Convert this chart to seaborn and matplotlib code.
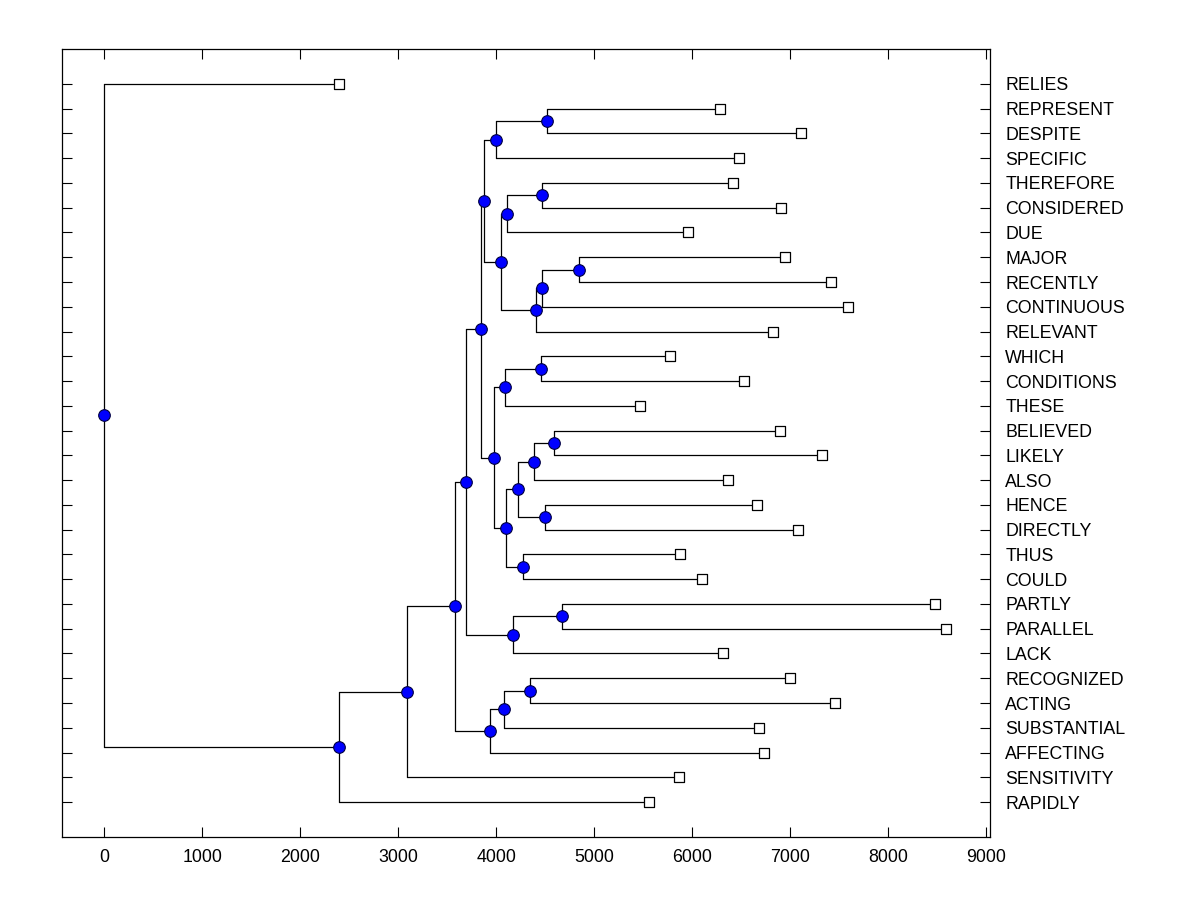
import numpy as np
import pandas as pd
import seaborn as sns
from matplotlib import pyplot as plt

# leaves, top to bottom, with the distance at which each leaf ends
leaf_names = ['RELIES', 'REPRESENT', 'DESPITE', 'SPECIFIC', 'THEREFORE',
              'CONSIDERED', 'DUE', 'MAJOR', 'RECENTLY', 'CONTINUOUS',
              'RELEVANT', 'WHICH', 'CONDITIONS', 'THESE', 'BELIEVED',
              'LIKELY', 'ALSO', 'HENCE', 'DIRECTLY', 'THUS', 'COULD',
              'PARTLY', 'PARALLEL', 'LACK', 'RECOGNIZED', 'ACTING',
              'SUBSTANTIAL', 'AFFECTING', 'SENSITIVITY', 'RAPIDLY']
leaf_dist = [2400, 6280, 7110, 6480, 6420, 6910, 5960, 6950, 7420, 7590,
             6830, 5770, 6530, 5470, 6900, 7330, 6370, 6660, 7080, 5880,
             6100, 8480, 8590, 6320, 7000, 7460, 6680, 6730, 5870, 5560]

# joins: ids < 30 are leaves, id 30 + k is the k-th join
join_a = [1, 30, 4, 32, 7, 34, 35, 33, 31, 11, 39, 14, 41, 17, 42, 19, 44,
          40, 38, 21, 49, 48, 24, 52, 53, 51, 55, 56, 0]
join_b = [2, 3, 5, 6, 8, 9, 10, 36, 37, 12, 13, 15, 16, 18, 43, 20, 45,
          46, 47, 22, 23, 50, 25, 26, 27, 54, 28, 29, 57]
join_dist = [4520, 4000, 4470, 4110, 4850, 4470, 4410, 4050, 3875, 4460,
             4090, 4590, 4390, 4500, 4220, 4270, 4100, 3980, 3845, 4670,
             4170, 3690, 4350, 4080, 3940, 3580, 3090, 2400, 0]

x_ticks = [0, 1000, 2000, 3000, 4000, 5000, 6000, 7000, 8000, 9000]


def layout():
    xs = list(leaf_dist)
    ys = list(range(len(leaf_names)))
    for a, b, d in zip(join_a, join_b, join_dist):
        xs.append(d)
        ys.append((ys[a] + ys[b]) / 2)
    return xs, ys


xs, ys = layout()
n = len(leaf_names)

sns.set_style('white')
plt.rcParams['font.family'] = ['Liberation Sans', 'DejaVu Sans']

fig = plt.figure(figsize=(12, 9), dpi=100)
ax = fig.add_axes([0.0517, 0.07, 0.7733, 0.8756])

for k, (a, b, d) in enumerate(zip(join_a, join_b, join_dist)):
    ax.plot([d, d], [ys[a], ys[b]], color='black', lw=0.9, zorder=1)
    for c in (a, b):
        ax.plot([d, xs[c]], [ys[c], ys[c]], color='black', lw=0.9, zorder=1)

leaves = pd.DataFrame({'x': xs[:n], 'y': ys[:n]})
joins = pd.DataFrame({'x': xs[n:], 'y': ys[n:]})

sns.scatterplot(data=leaves, x='x', y='y', marker='s', s=48, color='white',
                edgecolor='black', linewidth=0.9, ax=ax, zorder=3)
sns.scatterplot(data=joins, x='x', y='y', marker='o', s=70, color='#0000ff',
                edgecolor='#000040', linewidth=0.8, ax=ax, zorder=3)

ax.set_xlim(-430, 9040)
ax.set_ylim(30.41, -1.41)
ax.set_xticks(x_ticks)
ax.set_yticks(range(n))
ax.set_yticklabels(leaf_names)
ax.set_xlabel('')
ax.set_ylabel('')

ax.tick_params(axis='x', bottom=True, top=True, labeltop=False,
               direction='in', length=7, width=0.8, pad=8.5,
               labelsize=12.8, colors='black')
ax.tick_params(axis='y', left=True, right=True, labelleft=False,
               labelright=True, direction='in', length=7, width=0.8,
               pad=11, labelsize=12.8, colors='black')
for s in ax.spines.values():
    s.set_color('black')
    s.set_linewidth(0.9)

fig.savefig('out.png', dpi=100)
plt.close(fig)
